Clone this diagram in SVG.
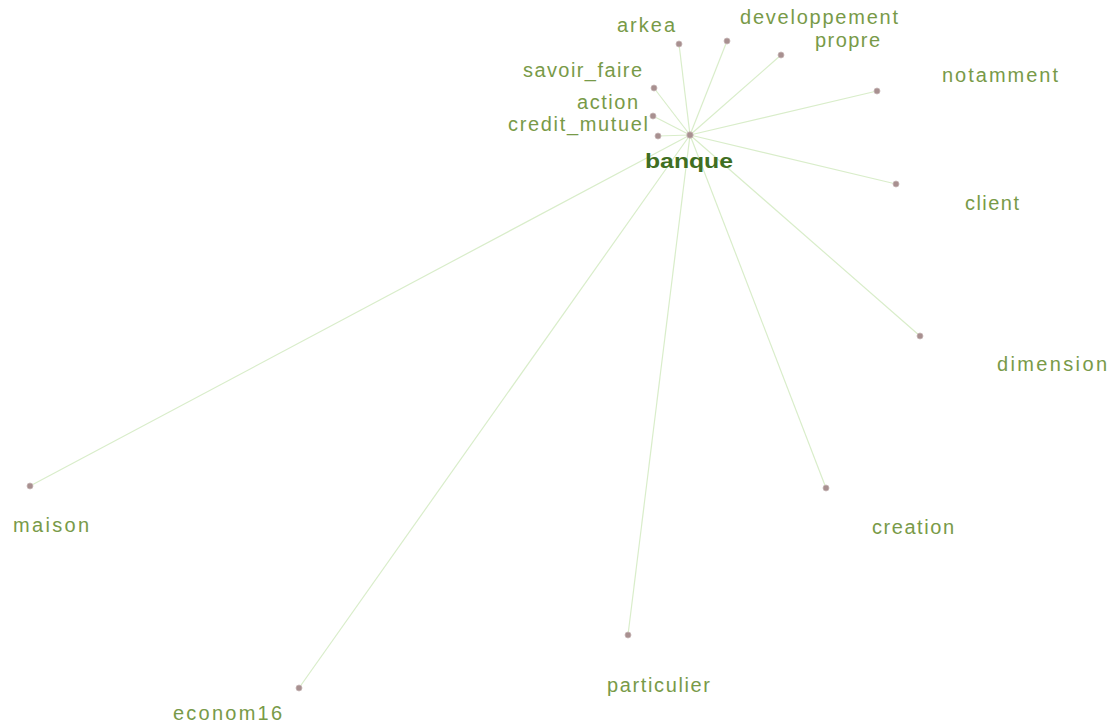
<svg xmlns="http://www.w3.org/2000/svg" width="1115" height="728" viewBox="0 0 1115 728">
<style>
.edge{stroke:#d9edca;stroke-width:1.2;fill:none}
.dot{fill:#a89090;stroke:#c8b8b8;stroke-width:0.8}
.lbl{font-family:"Liberation Sans",Arial,sans-serif;font-size:20px;fill:#789a48}
.hub{font-family:"Liberation Sans",Arial,sans-serif;font-size:20px;font-weight:bold;fill:#3f6e22}
</style>
<rect width="1115" height="728" fill="#ffffff"/>
<g id="connectors">
<line class="edge" x1="690" y1="135" x2="679" y2="44"/>
<line class="edge" x1="690" y1="135" x2="727" y2="41"/>
<line class="edge" x1="690" y1="135" x2="781" y2="55"/>
<line class="edge" x1="690" y1="135" x2="654" y2="88"/>
<line class="edge" x1="690" y1="135" x2="653" y2="116"/>
<line class="edge" x1="690" y1="135" x2="658" y2="136"/>
<line class="edge" x1="690" y1="135" x2="877" y2="91"/>
<line class="edge" x1="690" y1="135" x2="896" y2="184"/>
<line class="edge" x1="690" y1="135" x2="920" y2="336"/>
<line class="edge" x1="690" y1="135" x2="826" y2="488"/>
<line class="edge" x1="690" y1="135" x2="628" y2="635"/>
<line class="edge" x1="690" y1="135" x2="299" y2="688"/>
<line class="edge" x1="690" y1="135" x2="30" y2="486"/>
</g>
<g id="banque"><circle class="dot" cx="690" cy="135" r="3.2" fill="#7a9a8a"/><text class="hub" x="645" y="168" textLength="88" lengthAdjust="spacingAndGlyphs">banque</text></g>
<g id="arkea"><circle class="dot" cx="679" cy="44" r="3"/><text class="lbl" x="617" y="32" textLength="58">arkea</text></g>
<g id="developpement"><circle class="dot" cx="727" cy="41" r="3"/><text class="lbl" x="740" y="24" textLength="158">developpement</text></g>
<g id="propre"><circle class="dot" cx="781" cy="55" r="3"/><text class="lbl" x="815" y="47" textLength="65">propre</text></g>
<g id="savoir_faire"><circle class="dot" cx="654" cy="88" r="3"/><text class="lbl" x="523" y="77" textLength="119">savoir_faire</text></g>
<g id="action"><circle class="dot" cx="653" cy="116" r="3"/><text class="lbl" x="577" y="109" textLength="61">action</text></g>
<g id="credit_mutuel"><circle class="dot" cx="658" cy="136" r="3"/><text class="lbl" x="508" y="131" textLength="140">credit_mutuel</text></g>
<g id="notamment"><circle class="dot" cx="877" cy="91" r="3"/><text class="lbl" x="942" y="82" textLength="116">notamment</text></g>
<g id="client"><circle class="dot" cx="896" cy="184" r="3"/><text class="lbl" x="965" y="210" textLength="54">client</text></g>
<g id="dimension"><circle class="dot" cx="920" cy="336" r="3"/><text class="lbl" x="997" y="371" textLength="110">dimension</text></g>
<g id="creation"><circle class="dot" cx="826" cy="488" r="3"/><text class="lbl" x="872" y="534" textLength="82">creation</text></g>
<g id="particulier"><circle class="dot" cx="628" cy="635" r="3"/><text class="lbl" x="607" y="692" textLength="103">particulier</text></g>
<g id="econom16"><circle class="dot" cx="299" cy="688" r="3"/><text class="lbl" x="173" y="720" textLength="109">econom16</text></g>
<g id="maison"><circle class="dot" cx="30" cy="486" r="3"/><text class="lbl" x="13" y="532" textLength="76">maison</text></g>
</svg>
